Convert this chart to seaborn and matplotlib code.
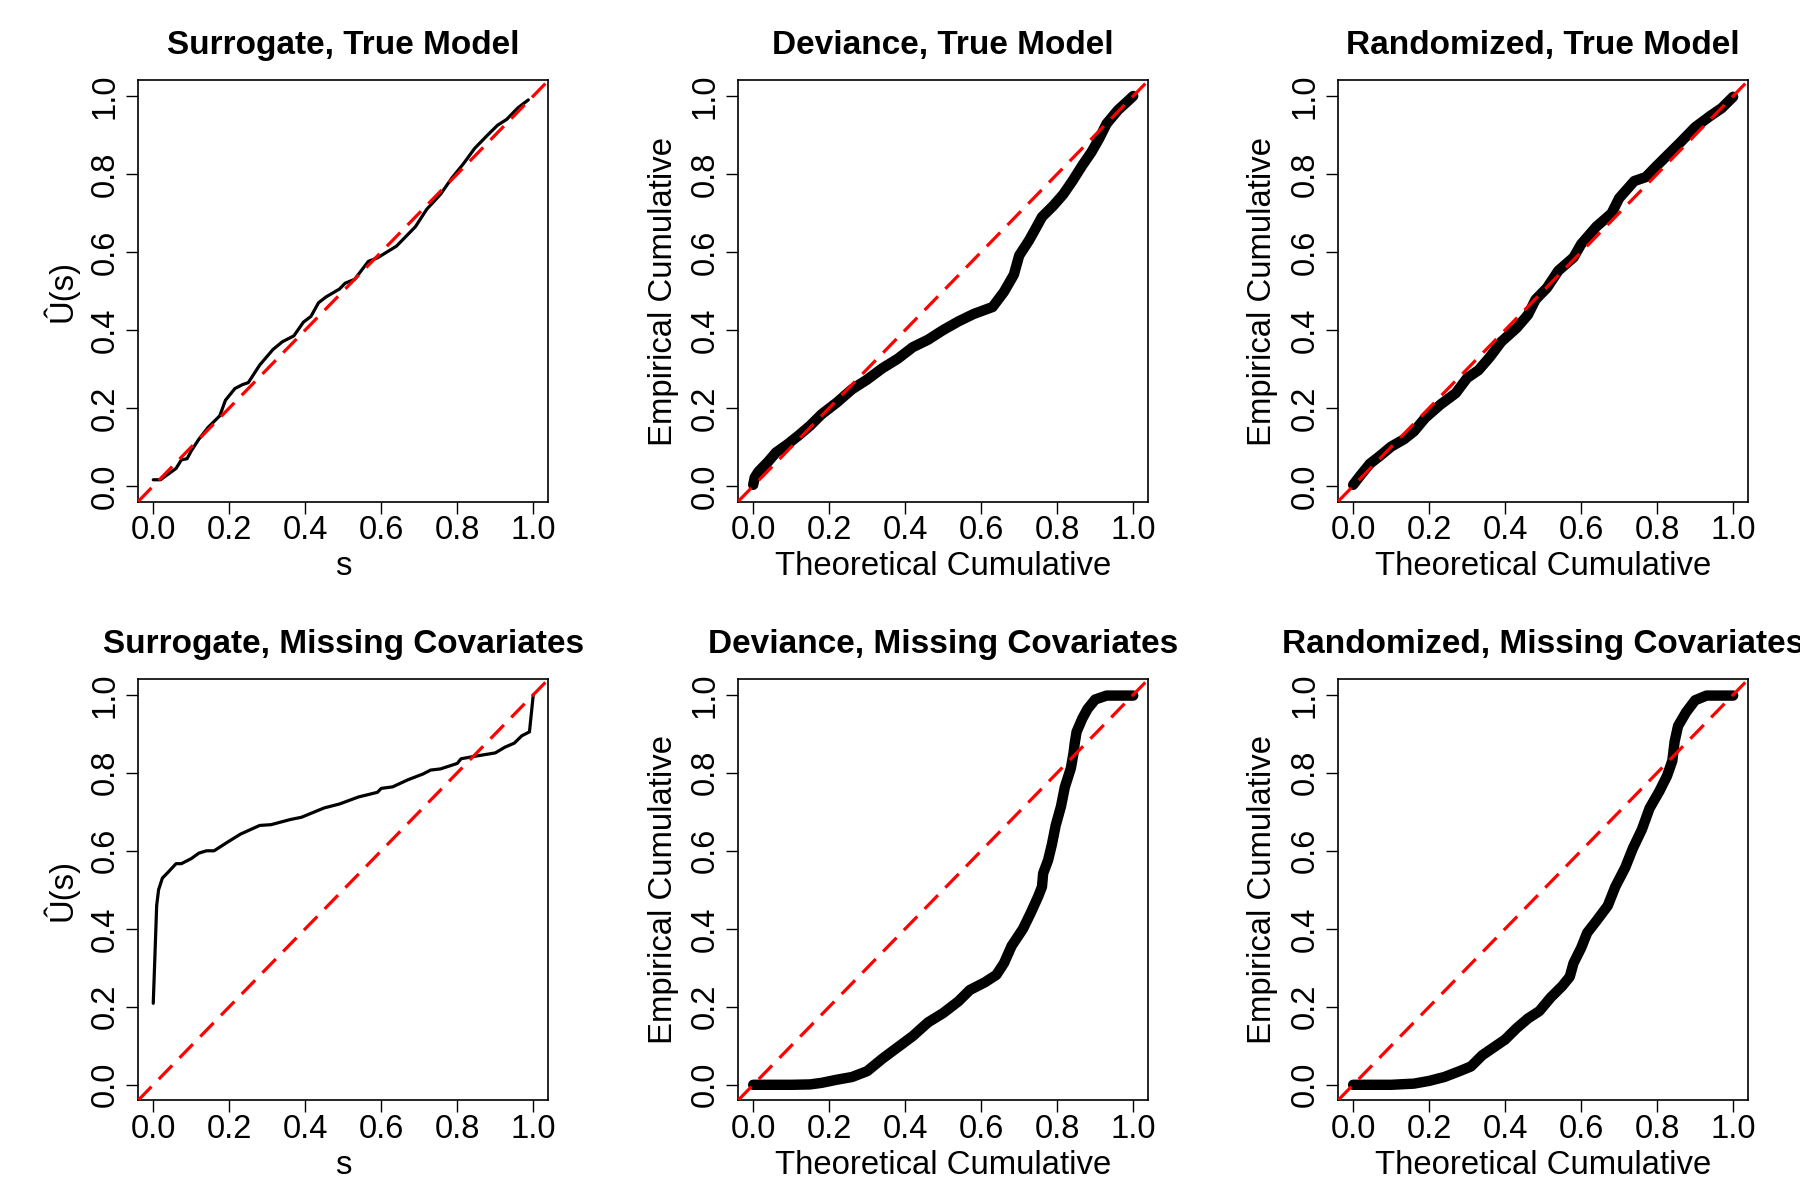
import numpy as np
import pandas as pd
import matplotlib
matplotlib.use("Agg")
import matplotlib.pyplot as plt
import seaborn as sns

# values
surr_true_s = [0.0, 0.019, 0.06, 0.074, 0.089, 0.10, 0.12, 0.144, 0.175, 0.19, 0.215, 0.235,
               0.25, 0.28, 0.315, 0.34, 0.37, 0.395, 0.415, 0.435, 0.455, 0.49, 0.505, 0.53,
               0.566, 0.59, 0.615, 0.64, 0.66, 0.69, 0.72, 0.756, 0.786, 0.816, 0.846, 0.88,
               0.906, 0.93, 0.96, 0.987]
surr_true_u = [0.016, 0.016, 0.045, 0.067, 0.07, 0.09, 0.12, 0.15, 0.18, 0.22, 0.25, 0.26,
               0.265, 0.31, 0.35, 0.37, 0.385, 0.42, 0.435, 0.47, 0.485, 0.505, 0.52, 0.53,
               0.576, 0.585, 0.60, 0.615, 0.635, 0.665, 0.71, 0.748, 0.79, 0.826, 0.866, 0.90,
               0.925, 0.94, 0.97, 0.99]

dev_true_x = [0.0, 0.004, 0.014, 0.039, 0.06, 0.089, 0.12, 0.15, 0.18, 0.22, 0.26, 0.30,
              0.34, 0.38, 0.42, 0.46, 0.50, 0.54, 0.58, 0.63, 0.66, 0.686, 0.70, 0.726,
              0.746, 0.76, 0.79, 0.816, 0.84, 0.866, 0.89, 0.91, 0.93, 0.96, 0.987, 1.0]
dev_true_y = [0.003, 0.022, 0.037, 0.062, 0.086, 0.106, 0.13, 0.155, 0.184, 0.214, 0.248, 0.273,
              0.302, 0.326, 0.356, 0.375, 0.40, 0.422, 0.441, 0.459, 0.498, 0.542, 0.591, 0.63,
              0.665, 0.69, 0.719, 0.748, 0.782, 0.822, 0.856, 0.89, 0.929, 0.964, 0.988, 1.0]

rand_true_x = [0.0, 0.019, 0.044, 0.069, 0.10, 0.134, 0.16, 0.19, 0.23, 0.27, 0.30, 0.33,
               0.36, 0.39, 0.43, 0.46, 0.48, 0.51, 0.54, 0.58, 0.60, 0.64, 0.68, 0.70,
               0.74, 0.77, 0.80, 0.83, 0.86, 0.90, 0.94, 0.97, 1.0]
rand_true_y = [0.003, 0.027, 0.057, 0.076, 0.101, 0.12, 0.14, 0.175, 0.209, 0.238, 0.277, 0.297,
               0.331, 0.37, 0.405, 0.439, 0.478, 0.508, 0.552, 0.586, 0.62, 0.665, 0.699, 0.738,
               0.782, 0.792, 0.822, 0.851, 0.88, 0.92, 0.949, 0.969, 0.998]

surr_miss_s = [0.0, 0.009, 0.014, 0.024, 0.039, 0.06, 0.074, 0.10, 0.12, 0.14, 0.16, 0.20,
               0.23, 0.28, 0.31, 0.36, 0.39, 0.45, 0.49, 0.54, 0.59, 0.60, 0.63, 0.67,
               0.71, 0.73, 0.756, 0.80, 0.81, 0.85, 0.90, 0.926, 0.95, 0.97, 0.99, 1.0]
surr_miss_u = [0.209, 0.46, 0.50, 0.53, 0.545, 0.567, 0.567, 0.58, 0.594, 0.60, 0.60, 0.625,
               0.643, 0.665, 0.667, 0.68, 0.686, 0.71, 0.72, 0.738, 0.75, 0.76, 0.764, 0.782,
               0.797, 0.807, 0.81, 0.824, 0.836, 0.843, 0.851, 0.866, 0.876, 0.895, 0.905, 1.0]

dev_miss_x = [0.0, 0.05, 0.10, 0.15, 0.18, 0.22, 0.26, 0.30, 0.34, 0.38, 0.42, 0.46,
              0.50, 0.54, 0.57, 0.61, 0.64, 0.66, 0.68, 0.71, 0.73, 0.75, 0.76, 0.763,
              0.776, 0.786, 0.796, 0.81, 0.82, 0.836, 0.843, 0.846, 0.851, 0.866, 0.88, 0.90,
              0.93, 1.0]
dev_miss_y = [0.0, 0.0, 0.0, 0.001, 0.005, 0.013, 0.02, 0.035, 0.067, 0.096, 0.125, 0.16,
              0.184, 0.214, 0.243, 0.263, 0.282, 0.312, 0.356, 0.40, 0.44, 0.483, 0.508, 0.542,
              0.576, 0.616, 0.665, 0.714, 0.763, 0.812, 0.851, 0.875, 0.905, 0.939, 0.964, 0.988,
              0.998, 0.998]

rand_miss_x = [0.0, 0.10, 0.16, 0.20, 0.24, 0.28, 0.31, 0.34, 0.37, 0.40, 0.43, 0.46,
               0.49, 0.52, 0.55, 0.57, 0.58, 0.60, 0.616, 0.64, 0.67, 0.69, 0.716, 0.736,
               0.76, 0.78, 0.806, 0.826, 0.84, 0.846, 0.855, 0.876, 0.90, 0.93, 1.0]
rand_miss_y = [0.0, 0.0, 0.003, 0.01, 0.02, 0.035, 0.047, 0.076, 0.096, 0.116, 0.145, 0.17,
               0.189, 0.224, 0.253, 0.277, 0.312, 0.351, 0.39, 0.42, 0.459, 0.508, 0.557, 0.606,
               0.655, 0.709, 0.753, 0.792, 0.831, 0.88, 0.92, 0.955, 0.986, 0.998, 0.998]

ticks = [0.0, 0.2, 0.4, 0.6, 0.8, 1.0]
tick_labels = ["0.0", "0.2", "0.4", "0.6", "0.8", "1.0"]

sns.set_theme(style="ticks")
plt.rcParams.update({
    "font.family": ["Liberation Sans", "DejaVu Sans"],
    "text.color": "black",
    "axes.labelcolor": "black",
    "axes.edgecolor": "black",
    "axes.linewidth": 1.2,
    "xtick.color": "black",
    "ytick.color": "black",
    "xtick.major.size": 8.5,
    "ytick.major.size": 8.5,
    "xtick.major.width": 1.0,
    "ytick.major.width": 1.0,
})

panels = [
    ("Surrogate, True Model", surr_true_s, surr_true_u, "line", "s", "Û(s)"),
    ("Deviance, True Model", dev_true_x, dev_true_y, "dots", "Theoretical Cumulative", "Empirical Cumulative"),
    ("Randomized, True Model", rand_true_x, rand_true_y, "dots", "Theoretical Cumulative", "Empirical Cumulative"),
    ("Surrogate, Missing Covariates", surr_miss_s, surr_miss_u, "line", "s", "Û(s)"),
    ("Deviance, Missing Covariates", dev_miss_x, dev_miss_y, "dots", "Theoretical Cumulative", "Empirical Cumulative"),
    ("Randomized, Missing Covariates", rand_miss_x, rand_miss_y, "dots", "Theoretical Cumulative", "Empirical Cumulative"),
]

fig = plt.figure(figsize=(18, 12), dpi=100)
lefts = [0.0767, 0.41, 0.7433]
bottoms = [0.582, 0.083]
w, h = 0.228, 0.351

for i, (title, xs, ys, kind, xlab, ylab) in enumerate(panels):
    ax = fig.add_axes([lefts[i % 3], bottoms[i // 3], w, h])
    df = pd.DataFrame({"x": xs, "y": ys})
    if kind == "line":
        sns.lineplot(data=df, x="x", y="y", ax=ax, color="black", linewidth=2.3,
                     sort=False, estimator=None)
    else:
        # dense open circles in the original merge into a thick band
        sns.lineplot(data=df, x="x", y="y", ax=ax, color="black", linewidth=7.5,
                     sort=False, estimator=None, solid_capstyle="round", solid_joinstyle="round")
    ax.axline((0, 0), slope=1, color="#ff0000", linewidth=2.3, dashes=(6, 3.3), zorder=4)
    ax.set_xlim(-0.04, 1.04)
    ax.set_ylim(-0.04, 1.04)
    ax.set_xticks(ticks)
    ax.set_xticklabels(tick_labels, fontsize=23.5)
    ax.set_yticks(ticks)
    ax.set_yticklabels(tick_labels, fontsize=23.5, rotation=90, va="center")
    ax.tick_params(axis="x", pad=1)
    ax.tick_params(axis="y", pad=4)
    ax.set_xlabel(xlab, fontsize=23.7, labelpad=4)
    ax.set_ylabel(ylab, fontsize=23.7, labelpad=8)
    ax.set_title(title, fontsize=24, fontweight="bold", pad=19)

fig.savefig("out.png", dpi=100)
